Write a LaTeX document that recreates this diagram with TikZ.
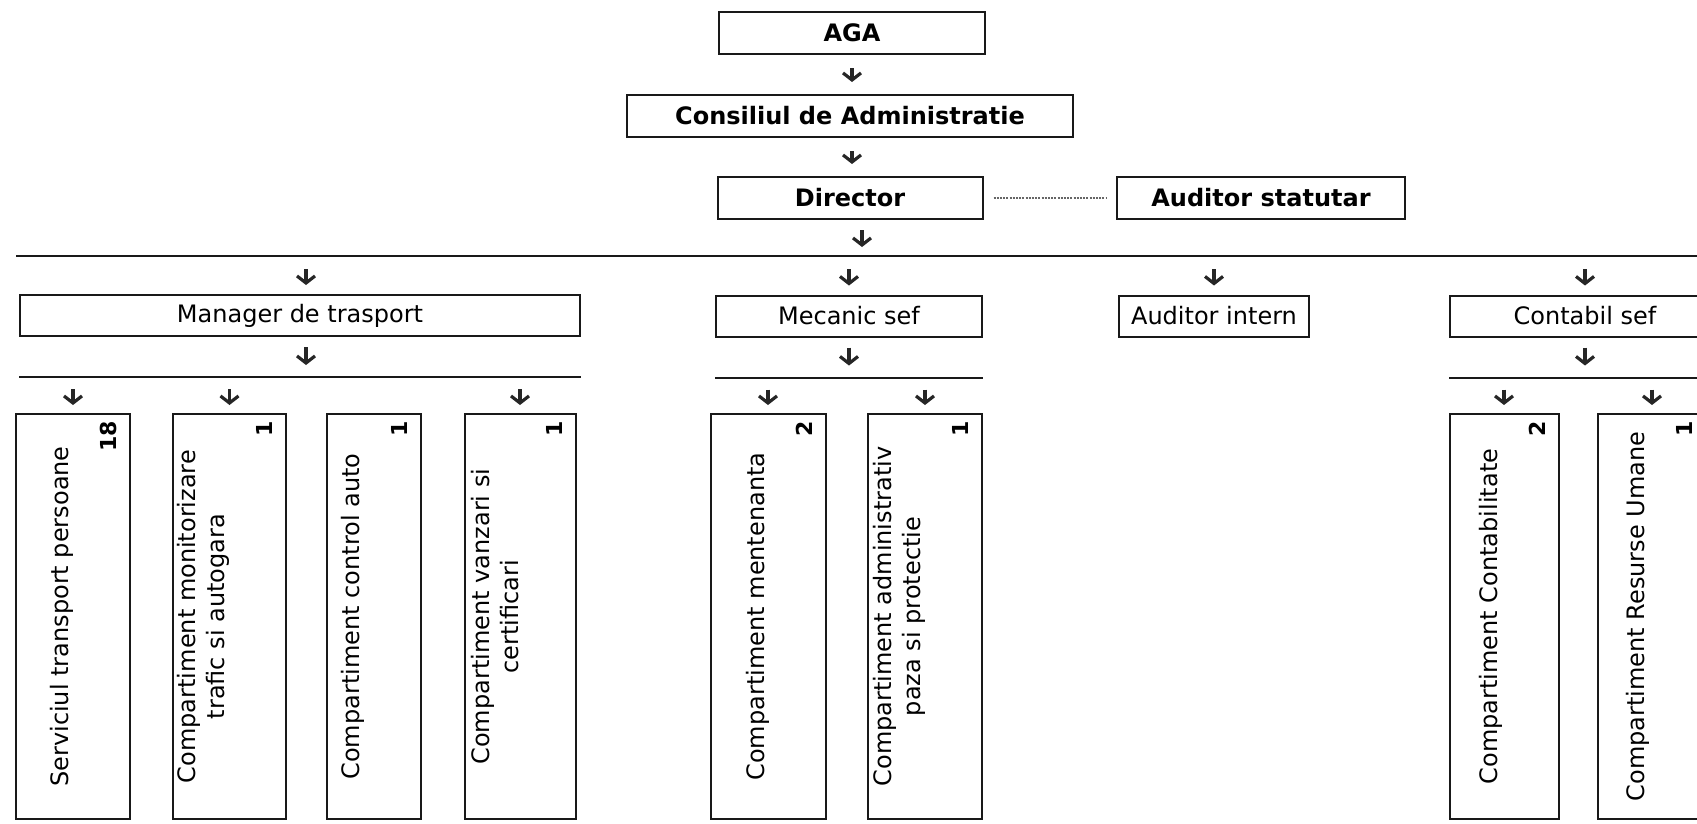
\documentclass[tikz,border=0pt]{standalone}
\usepackage{fontspec}
\setmainfont{DejaVu Sans}
\usetikzlibrary{positioning,arrows.meta}
\tikzset{>=stealth}
\tikzset{
  box/.style={draw=black!90, line width=2pt, inner sep=0pt, minimum height=42pt},
  head/.style={box, font=\fontsize{24}{28}\selectfont\bfseries},
  unit/.style={box, minimum height=41pt, font=\fontsize{24}{28}\selectfont},
  col/.style={draw=black!90, line width=2pt, inner sep=0pt, minimum height=405pt},
  coltxt/.style={rotate=90, anchor=south, inner sep=0pt, align=center, font=\fontsize{24}{29}\selectfont},
  cnt/.style={rotate=90, anchor=south east, inner sep=0pt, font=\fontsize{22}{24}\selectfont\bfseries},
  bus/.style={line width=2pt, black!90},
  darr/.style={line width=3.2pt, black!85, -{Straight Barb[length=7pt,width=18pt]}},
  frombus/.style={darr, shorten <=13pt, shorten >=9pt},
  tobus/.style={darr, shorten <=10pt, shorten >=12pt},
}

\begin{document}
\begin{tikzpicture}[x=1pt,y=-1pt]
\useasboundingbox (0,0) rectangle (1697,823);
\clip (0,0) rectangle (1697,823);
% conducere
\node[head, minimum width=266pt] (aga) at (852,33) {AGA};
\node[head, minimum width=446pt] (cons) at (850,116) {Consiliul de Administratie};
\node[head, minimum width=265pt] (dir) at (850,198) {Director};
\node[head, minimum width=288pt] (audst) at (1261,198) {Auditor statutar};
\draw[line width=1.6pt, black!60, dash pattern=on 2pt off 1.2pt, shorten <=10pt, shorten >=9pt] (dir) -- (audst);
\draw[darr, shorten <=13pt, shorten >=12pt] (aga.south) -- (aga.south |- cons.north);
\draw[darr, shorten <=13pt, shorten >=12pt] (aga.south |- cons.south) -- (aga.south |- dir.north);
% linia principala
\coordinate (bus0) at (16,256);
\coordinate (bus0e) at (1705,256);
\draw[bus] (bus0) -- (bus0e);
\coordinate (dirout) at ([xshift=12pt]dir.south);
\draw[darr, shorten <=10pt, shorten >=9pt] (dirout) -- (dirout |- bus0);
% nivel 1
\node[unit, minimum width=560pt] (mgr) at (300,315.5) {Manager de trasport};
\node[unit, minimum width=266pt] (mec) at (849,316) {Mecanic sef};
\node[unit, minimum width=190pt] (audin) at (1214,316) {Auditor intern};
\node[unit, minimum width=270pt] (cont) at (1585,316) {Contabil sef};
\coordinate (mgrin) at ([xshift=6pt]mgr.north);
\draw[frombus] (mgrin |- bus0) -- (mgrin);
\foreach \u in {mec,audin,cont}
  \draw[frombus] (\u.north |- bus0) -- (\u.north);
% linii secundare
\coordinate (mgrbus) at ([yshift=-40pt]mgr.south);
\coordinate (mecbus) at ([yshift=-40pt]mec.south);
\coordinate (contbus) at ([yshift=-40pt]cont.south);
\draw[bus] (mgr.west |- mgrbus) -- (mgr.east |- mgrbus);
\draw[bus] (mec.west |- mecbus) -- (mec.east |- mecbus);
\draw[bus] (cont.west |- contbus) -- (1705,0 |- contbus);
\draw[tobus] (mgrin |- mgr.south) -- (mgrin |- mgrbus);
\foreach \u in {mec,cont}
  \draw[tobus] (\u.south) -- (\u bus);
% compartimente
\foreach \name/\cx/\w/\num/\txt in {
  b1/73/114/18/{Serviciul transport persoane},
  b2/229.5/113/1/{Compartiment monitorizare\\trafic si autogara},
  b3/374/94/1/{Compartiment control auto},
  b4/520/111/1/{Compartiment vanzari si\\certificari},
  m1/768/115/2/{Compartiment mentenanta},
  m2/925/114/1/{Compartiment administrativ\\paza si protectie},
  c1/1504/109/2/{Compartiment Contabilitate},
  c2/1652/108/1/{Compartiment Resurse Umane}}{
  \node[col, minimum width=\w pt] (\name) at (\cx,616.5) {};
  \node[coltxt] (\name-t) at ([xshift=-57pt]\name.east) {\txt};
  \node[cnt] (\name-n) at ([xshift=-14pt,yshift=-8pt]\name.north east) {\num};
}
\foreach \name/\b in {b1/mgrbus,b2/mgrbus,b4/mgrbus,m1/mecbus,m2/mecbus,c1/contbus,c2/contbus}
  \draw[darr, shorten <=12pt, shorten >=8pt] (\name.north |- \b) -- (\name.north);
\end{tikzpicture}
\end{document}
